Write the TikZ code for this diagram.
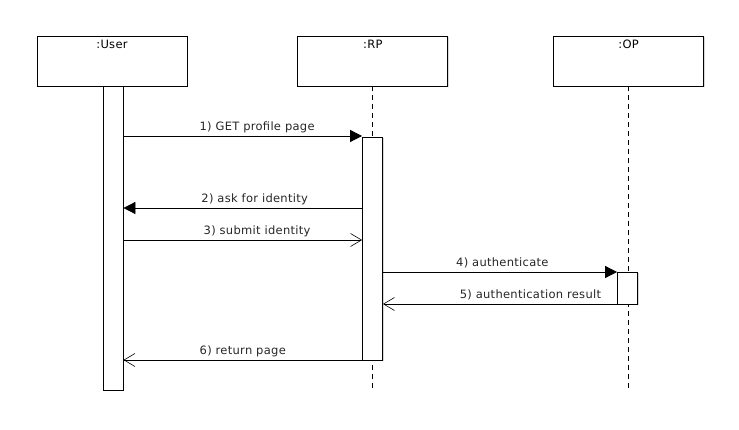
\documentclass[tikz,border=0pt]{standalone}
\usepackage{fontspec}
\setmainfont[LetterSpace=2.5]{DejaVu Sans}
\usetikzlibrary{positioning}
\usetikzlibrary{arrows.meta, shadows}
\tikzstyle{head} = [draw, line width=0.8pt, fill=white, minimum width=150pt, minimum height=50pt, inner sep=4pt, text height=9pt, text depth=33pt, drop shadow={shadow xshift=1.2pt, shadow yshift=-1.2pt, fill=black!30}]
\tikzstyle{bar} = [draw, line width=0.8pt, fill=white, minimum width=20pt, inner sep=0pt, drop shadow={shadow xshift=1.2pt, shadow yshift=-1.2pt, fill=black!30}]
\tikzstyle{life} = [line width=0.8pt, dash pattern=on 5pt off 4pt]
\tikzstyle{sync} = [line width=0.8pt, -{Triangle[length=12pt, width=12pt]}]
\tikzstyle{reply} = [line width=0.8pt, -{Straight Barb[length=11pt, width=13pt, line width=0.6pt]}]
\tikzstyle{lbl} = [anchor=base, yshift=5pt, inner sep=0pt, text=black!85]

\begin{document}
\begin{tikzpicture}[x=1pt, y=-1pt, font=\fontsize{11.5}{13}\selectfont]
    \useasboundingbox (0,0) rectangle (739,430);

    % Heads
    \node[head] (User) at (112,61) {:User};
    \node[head, right=110pt of User] (RP) {:RP};
    \node[head, right=105pt of RP] (OP) {:OP};

    % Lifelines
    \coordinate (end) at (0,391);
    \draw[life] (RP.south) -- (RP.south |- end);
    \draw[life] (OP.south) -- (OP.south |- end);

    % Activations
    \node[bar, minimum height=304pt] (userbar) at (113,238) {};
    \node[bar, minimum height=223pt] (rpbar) at (372.5,248.5) {};
    \node[bar, minimum height=32pt] (opbar) at (627.5,288) {};

    % Messages
    \coordinate (m1) at (0,136);
    \coordinate (m2) at (0,208);
    \coordinate (m3) at (0,240);
    \coordinate (m4) at (0,272);
    \coordinate (m5) at (0,304);
    \coordinate (m6) at (0,360);
    \draw[sync] (userbar.east |- m1) -- node[lbl, pos=0.56] {1) GET profile page} (rpbar.west |- m1);
    \draw[sync] (rpbar.west |- m2) -- node[lbl, pos=0.45] {2) ask for identity} (userbar.east |- m2);
    \draw[reply] (userbar.east |- m3) -- node[lbl, pos=0.56] {3) submit identity} (rpbar.west |- m3);
    \draw[sync] (rpbar.east |- m4) -- node[lbl, pos=0.51] {4) authenticate} (opbar.west |- m4);
    \draw[reply] (opbar.west |- m5) -- node[lbl, pos=0.37] {5) authentication result} (rpbar.east |- m5);
    \draw[reply] (rpbar.west |- m6) -- node[lbl, pos=0.5] {6) return page} (userbar.east |- m6);
\end{tikzpicture}
\end{document}
